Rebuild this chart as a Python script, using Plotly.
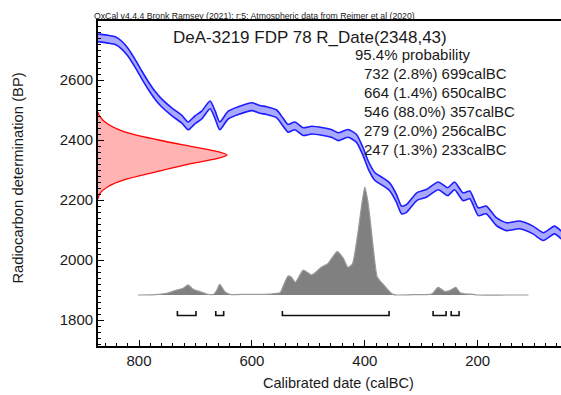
import plotly.graph_objects as go

# ---------------- data ----------------
# Calibration curve (IntCal20): calendar year (calBC) and radiocarbon age (BP)
CAL_YEAR = [874, 869, 855, 842, 831, 820, 807, 795, 784, 772, 760, 742, 724, 713,
            701, 689, 674, 665, 657, 642, 624, 600, 586, 574, 556, 545, 536, 524,
            509, 494, 474, 459, 447, 430, 415, 403, 394, 382, 368, 356, 344, 335,
            326, 308, 291, 270, 253, 241, 226, 214, 199, 185, 167, 149, 126, 102,
            84, 64, 52]
CAL_BP = [2740, 2740, 2736, 2731, 2717, 2694, 2656, 2617, 2583, 2550, 2524, 2494, 2469, 2447,
          2467, 2483, 2517, 2483, 2447, 2483, 2498, 2511, 2502, 2498, 2487, 2460, 2439, 2447,
          2428, 2433, 2428, 2422, 2411, 2422, 2406, 2361, 2317, 2278, 2261, 2244, 2206, 2167,
          2172, 2211, 2222, 2247, 2228, 2247, 2211, 2217, 2161, 2167, 2128, 2111, 2117, 2100,
          2078, 2100, 2083]
CAL_SIGMA = 13

# Radiocarbon likelihood R_Date(2348,43): BP and relative height
LIK_BP = [2203, 2222, 2245, 2267, 2294, 2322, 2338, 2350, 2362, 2378, 2400, 2428, 2455, 2478, 2493]
LIK_P = [0.0, 0.015, 0.08, 0.2, 0.45, 0.73, 0.92, 1.0, 0.92, 0.73, 0.47, 0.2, 0.07, 0.015, 0.0]

# Calibrated posterior: year (calBC) and relative probability
POST_YEAR = [802, 770, 751, 733, 722, 713, 704, 692, 680, 668, 662, 657, 648, 639, 609,
             568, 550, 545, 536, 530, 523, 509, 494, 477, 465, 449, 438, 430, 422, 412,
             406, 400, 395, 391, 385, 378, 368, 356, 350, 344, 315, 285, 280, 270, 258,
             250, 239, 231, 220, 208, 202, 150, 110]
POST_P = [0.0, 0.003, 0.016, 0.046, 0.062, 0.093, 0.053, 0.031, 0.009, 0.006, 0.046, 0.099, 0.031, 0.006, 0.006,
          0.009, 0.021, 0.077, 0.176, 0.164, 0.118, 0.231, 0.185, 0.256, 0.293, 0.401, 0.34, 0.256, 0.287, 0.583,
          0.815, 1.0, 0.88, 0.72, 0.435, 0.167, 0.102, 0.031, 0.006, 0.0, 0.003, 0.006, 0.014, 0.071, 0.031,
          0.04, 0.071, 0.021, 0.009, 0.006, 0.0, 0.0, 0.0]

# 95.4% ranges
RANGE_FROM = [732, 664, 546, 279, 247]
RANGE_TO = [699, 650, 357, 256, 233]
RANGE_PCT = ["2.8", "1.4", "88.0", "2.0", "1.3"]

X_TICKS = [800, 600, 400, 200]
Y_TICKS = [1800, 2000, 2200, 2400, 2600]

# ---------------- layout geometry ----------------
W, H = 561, 395
L, R, T, B = 98, 0, 21, 49
PW = W - L - R
PH = H - T - B


def paper(x, y):
    return (x - L) / PW, (H - B - y) / PH


FONT = "Liberation Sans, Arial, sans-serif"
TXT = "#1a1a1a"

fig = go.Figure()

# calibration band
upper = [v + CAL_SIGMA for v in CAL_BP]
lower = [v - CAL_SIGMA for v in CAL_BP]
fig.add_trace(go.Scatter(x=CAL_YEAR, y=lower, mode="lines",
                         line=dict(color="#1c1cff", width=1.6, shape="spline", smoothing=0.6),
                         hoverinfo="skip", showlegend=False))
fig.add_trace(go.Scatter(x=CAL_YEAR, y=upper, mode="lines", fill="tonexty",
                         fillcolor="#a9a9ff",
                         line=dict(color="#1c1cff", width=1.6, shape="spline", smoothing=0.6),
                         hoverinfo="skip", showlegend=False))

# likelihood on the y axis
fig.add_trace(go.Scatter(x=LIK_P, y=LIK_BP, xaxis="x2", yaxis="y", mode="lines",
                         fill="tozerox", fillcolor="#ffb3b3",
                         line=dict(color="#ff0000", width=1.3, shape="spline", smoothing=0.8),
                         hoverinfo="skip", showlegend=False))

# posterior
fig.add_trace(go.Scatter(x=POST_YEAR, y=POST_P, xaxis="x", yaxis="y2", mode="lines",
                         fill="tozeroy", fillcolor="#808080",
                         line=dict(color="#9a9a9a", width=1.2, shape="spline", smoothing=0.5),
                         hoverinfo="skip", showlegend=False))

# range brackets (in posterior axis units)
BR_LOW, BR_HIGH = -0.19, -0.148
for a, b in zip(RANGE_FROM, RANGE_TO):
    fig.add_trace(go.Scatter(x=[a, a, b, b], y=[BR_HIGH, BR_LOW, BR_LOW, BR_HIGH],
                             xaxis="x", yaxis="y2", mode="lines",
                             line=dict(color="#111111", width=1.6),
                             hoverinfo="skip", showlegend=False))

x_left = 800 + (139 - L) / 0.5645
x_right = 800 - (W - R - 139) / 0.5645
y_bottom = 1800 - (346 - 320) / 0.3
y_top = y_bottom + PH / 0.3

axis_common = dict(showgrid=False, zeroline=False, linecolor="black", linewidth=1.8,
                   showline=True, ticks="inside", ticklen=6, tickwidth=1.2, tickcolor="black",
                   tickfont=dict(family=FONT, size=15, color=TXT))

fig.update_layout(
    width=W, height=H,
    margin=dict(l=L, r=R, t=T, b=B),
    plot_bgcolor="white", paper_bgcolor="white",
    xaxis=dict(range=[x_left, x_right], tickvals=X_TICKS, ticktext=[str(v) for v in X_TICKS],
               mirror=True,
               minor=dict(dtick=20, ticks="inside", ticklen=3, tickcolor="black", tickwidth=1),
               **axis_common),
    yaxis=dict(range=[y_bottom, y_top], tickvals=Y_TICKS, ticktext=[str(v) for v in Y_TICKS],
               minor=dict(dtick=20, ticks="inside", ticklen=3, tickcolor="black", tickwidth=1),
               **axis_common),
    xaxis2=dict(overlaying="x", anchor="y", range=[0, PW / 129.0], visible=False),
    yaxis2=dict(overlaying="y", anchor="x", range=[-51 / 108.0, (PH - 51) / 108.0], visible=False),
)

anns = []
hx, hy = paper(92, 15.5)
anns.append(dict(text="OxCal v4.4.4 Bronk Ramsey (2021); r:5; Atmospheric data from Reimer et al (2020)",
                 x=hx, y=hy, xanchor="left", yanchor="middle", font=dict(family=FONT, size=8.7, color=TXT)))
tx, ty = paper(310.3, 37.5)
anns.append(dict(text="DeA-3219 FDP 78 R_Date(2348,43)", x=tx, y=ty, xanchor="center", yanchor="middle",
                 font=dict(family=FONT, size=17, color=TXT)))
px_, py_ = paper(352.7, 54.3)
anns.append(dict(text="95.4% probability", x=px_, y=py_, xanchor="left", yanchor="middle",
                 font=dict(family=FONT, size=15, color=TXT)))
for i, (a, p, b) in enumerate(zip(RANGE_FROM, RANGE_PCT, RANGE_TO)):
    lx, ly = paper(361.7, 73.3 + i * 19)
    anns.append(dict(text=f"{a} ({p}%) {b}calBC", x=lx, y=ly, xanchor="left", yanchor="middle",
                     font=dict(family=FONT, size=15, color=TXT)))
xx, xy = paper(338.3, 383)
anns.append(dict(text="Calibrated date (calBC)", x=xx, y=xy, xanchor="center", yanchor="middle",
                 font=dict(family=FONT, size=14.5, color=TXT)))
yx, yy = paper(18.3, 178.3)
anns.append(dict(text="Radiocarbon determination (BP)", x=yx, y=yy, xanchor="center", yanchor="middle",
                 textangle=-90, font=dict(family=FONT, size=14.8, color=TXT)))
for a in anns:
    a.update(xref="paper", yref="paper", showarrow=False)
fig.update_layout(annotations=anns)

fig.write_html("out.html")
